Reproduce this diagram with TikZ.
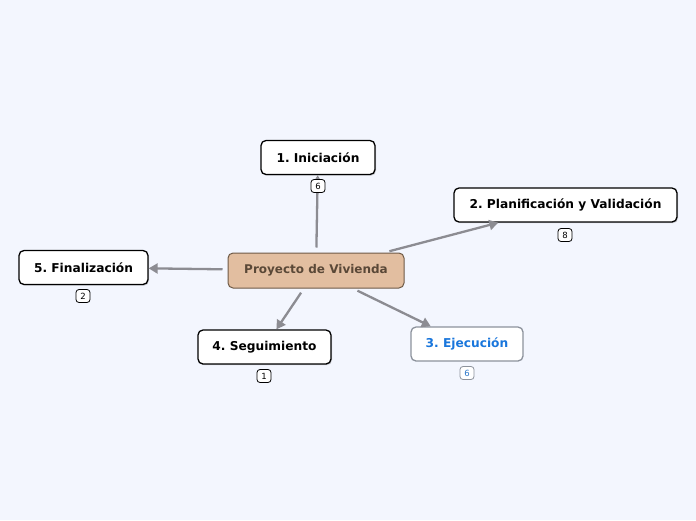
\documentclass[tikz,border=0pt]{standalone}
\usepackage{fontspec}
\setmainfont{DejaVu Sans}
\usepackage{tikz}
\usetikzlibrary{arrows.meta, shadows}
\frenchspacing
\definecolor{bgblue}{RGB}{243, 246, 254}
\definecolor{rootfill}{RGB}{226, 190, 160}
\definecolor{rootdraw}{RGB}{110, 90, 70}
\definecolor{roottext}{RGB}{90, 72, 55}
\definecolor{linkgray}{RGB}{140, 140, 146}
\definecolor{execblue}{RGB}{25, 118, 220}
\definecolor{execdraw}{RGB}{140, 146, 156}

\tikzset{
  topic/.style={draw=black, line width=1.3pt, fill=white, rounded corners=5pt, font=\bfseries\fontsize{12.2}{14}\selectfont, minimum height=34pt, inner xsep=8pt, drop shadow={shadow xshift=1pt, shadow yshift=-1.2pt, opacity=0.35}},
  badge/.style={draw=black, line width=0.8pt, fill=white, rounded corners=3pt, font=\fontsize{8.5}{9}\selectfont, inner sep=1pt, minimum width=14pt, minimum height=13pt},
  link/.style={draw=linkgray, line width=2.3pt, -{Triangle[length=9pt, width=10pt]}, shorten <=5pt}
}

\begin{document}
\begin{tikzpicture}[x=1pt, y=-1pt]
  \fill[bgblue] (0,0) rectangle (696,520);
  \useasboundingbox (0,0) rectangle (696,520);

  % central topic
  \node[draw=rootdraw, line width=1pt, fill=rootfill, rounded corners=5pt, text=roottext, font=\bfseries\fontsize{12}{14}\selectfont, minimum width=176pt, minimum height=35pt] (root) at (316,270.5) {Proyecto de Vivienda};

  % main topics
  \node[topic, minimum width=114pt] (ini) at (318,157.5) {1. Iniciación};
  \node[topic, minimum width=223pt] (plan) at (565.5,205) {2. Planificación y Validación};
  \node[draw=execdraw, line width=1.3pt, fill=white, rounded corners=5pt, text=execblue, font=\bfseries\fontsize{12.2}{14}\selectfont, minimum width=112pt, minimum height=34pt] (eje) at (467,344) {3. Ejecución};
  \node[topic, minimum width=133pt] (seg) at (264.5,347) {4. Seguimiento};
  \node[topic, minimum width=129pt] (fin) at (83.5,267.5) {5. Finalización};

  % connectors
  \draw[link] (root) -- (ini);
  \draw[link] (root) -- (plan);
  \draw[link] (root) -- (fin);
  \draw[link] (root) -- (seg);
  \draw[link] (root) -- (eje);

  % counters
  \node[badge] (cini) at (318,186) {6};
  \node[badge] (cplan) at (565,235) {8};
  \node[badge, draw=execdraw, text=execblue!80!gray] (ceje) at (467,373) {6};
  \node[badge] (cseg) at (264,376) {1};
  \node[badge] (cfin) at (83,296) {2};
\end{tikzpicture}
\end{document}
